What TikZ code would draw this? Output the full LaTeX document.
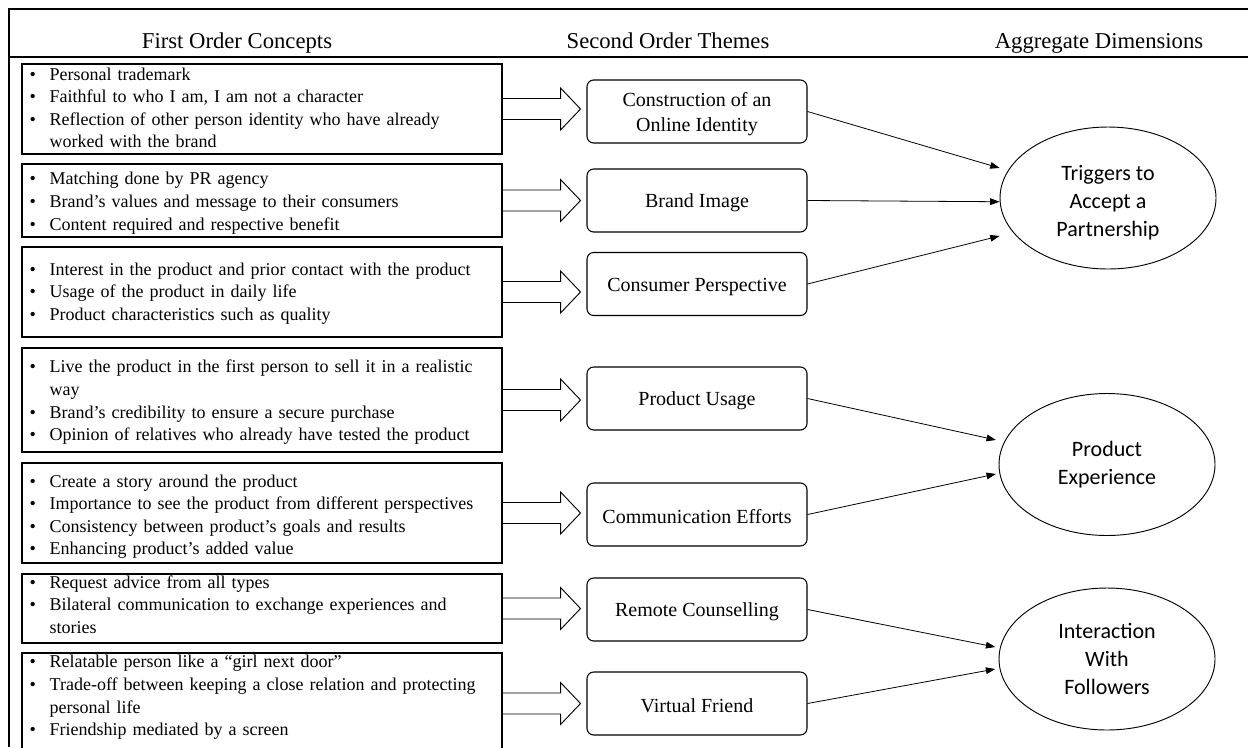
\documentclass[tikz,border=0pt]{standalone}
\usepackage{fontspec}
\setmainfont{Liberation Serif}
\newfontfamily\ellfont{Carlito}
\usetikzlibrary{arrows.meta,shapes.geometric}
\newcommand{\bl}[1]{\noindent\hangindent=21pt\hangafter=1\hspace*{6pt}\makebox[15pt][l]{\textbullet}#1\par}
\newcommand{\brk}{\hfil\break}
\newcommand{\hollowarrow}[1]{%
  \draw[harrow] ([yshift=7.875pt]#1.east) -- ++(58,0) -- ++(0,-10.5) -- ++(20,21) -- ++(-20,21) -- ++(0,-10.5) -- ++(-58,0);}
\tikzset{
  frame/.style={line width=0.9pt},
  lbox/.style={draw, line width=0.8pt, inner sep=0pt, minimum width=360pt},
  ltext/.style={anchor=base west, inner sep=0pt, text width=352pt,
    font=\fontsize{13.5}{16.9}\selectfont},
  tbox/.style={draw, line width=0.8pt, rounded corners=5pt, minimum width=165pt, minimum height=47.25pt,
    inner sep=0pt, align=center, font=\fontsize{15}{18.75}\selectfont},
  ell/.style={draw, ellipse, line width=0.7pt, minimum width=162pt, minimum height=106.5pt, inner sep=0pt,
    align=center, font=\ellfont\fontsize{16.5}{21}\selectfont},
  head/.style={anchor=base, font=\fontsize{17}{20}\selectfont},
  harrow/.style={line width=0.7pt, line join=miter},
  conn/.style={line width=0.6pt, -{Triangle[length=7pt,width=5pt]}}
}
\begin{document}
\begin{tikzpicture}[x=0.75pt,y=-0.75pt]
\useasboundingbox (0,0) rectangle (1248,747);
\clip (0,0) rectangle (1248,747);
% frame
\draw[frame] (9,747) -- (9,9) -- (1248,9);
\draw[frame] (9,57) -- (1248,57);
% headers
\node[head] (H1) at (237,48) {First Order Concepts};
\node[head] (H2) at (668,48) {Second Order Themes};
\node[head] (H3) at (1099,48) {Aggregate Dimensions};
% first order boxes
\node[lbox, minimum height=67.5pt] (L1) at (262,109) {};
\node[lbox, minimum height=54.75pt] (L2) at (262,200.5) {};
\node[lbox, minimum height=67.5pt] (L3) at (262,292) {};
\node[lbox, minimum height=78pt] (L4) at (262,400) {};
\node[lbox, minimum height=75pt] (L5) at (262,513) {};
\node[lbox, minimum height=51.75pt] (L6) at (262,608.5) {};
\node[lbox, minimum height=75.75pt] (L7) at (262,703.5) {};
\node[ltext] (L1t) at ([yshift=-12.4pt]L1.north west) {\raggedright%
\bl{Personal trademark}%
\bl{Faithful to who I am, I am not a character}%
\bl{Reflection of other person identity who have already\brk worked with the brand}};
\node[ltext] (L2t) at ([yshift=-16.1pt]L2.north west) {\raggedright%
\bl{Matching done by PR agency}%
\bl{Brand’s values and message to their consumers}%
\bl{Content required and respective benefit}};
\node[ltext] (L3t) at ([yshift=-21.4pt]L3.north west) {\raggedright%
\bl{Interest in the product and prior contact with the product}%
\bl{Usage of the product in daily life}%
\bl{Product characteristics such as quality}};
\node[ltext] (L4t) at ([yshift=-19.1pt]L4.north west) {\raggedright%
\bl{Live the product in the first person to sell it in a realistic\brk way}%
\bl{Brand’s credibility to ensure a secure purchase}%
\bl{Opinion of relatives who already have tested the product}};
\node[ltext] (L5t) at ([yshift=-18.4pt]L5.north west) {\raggedright%
\bl{Create a story around the product}%
\bl{Importance to see the product from different perspectives}%
\bl{Consistency between product’s goals and results}%
\bl{Enhancing product’s added value}};
\node[ltext] (L6t) at ([yshift=-10.9pt]L6.north west) {\raggedright%
\bl{Request advice from all types}%
\bl{Bilateral communication to exchange experiences and\brk stories}};
\node[ltext] (L7t) at ([yshift=-11.6pt]L7.north west) {\raggedright%
\bl{Relatable person like a “girl next door”}%
\bl{Trade-off between keeping a close relation and protecting\brk personal life}%
\bl{Friendship mediated by a screen}};
% second order themes
\node[tbox] (S1) at (697,111.5) {\rule{0pt}{14pt}Construction of an\\Online Identity};
\node[tbox] (S2) at (697,200.5) {\rule{0pt}{14pt}Brand Image};
\node[tbox] (S3) at (697,284) {\rule{0pt}{14pt}Consumer Perspective};
\node[tbox] (S4) at (697,398.5) {\rule{0pt}{14pt}Product Usage};
\node[tbox] (S5) at (697,514.5) {\rule{0pt}{14pt}Communication Efforts};
\node[tbox] (S6) at (697,609.5) {\rule{0pt}{14pt}Remote Counselling};
\node[tbox] (S7) at (697,703.5) {\rule{0pt}{14pt}Virtual Friend};
% aggregate dimensions
\node[ell] (T) at (1108,198) {\rule{0pt}{19pt}Triggers to\\Accept a\\Partnership};
\node[ell] (P) at (1107,464.5) {Product\\Experience};
\node[ell] (I) at (1107,659) {Interaction\\With\\Followers};
% hollow arrows
\hollowarrow{L1}
\hollowarrow{L2}
\hollowarrow{L3}
\hollowarrow{L4}
\hollowarrow{L5}
\hollowarrow{L6}
\hollowarrow{L7}
% connectors
\draw[conn] (S1.east) -- ([yshift=22.5pt]T.west);
\draw[conn] (S2.east) -- ([yshift=-2.8pt]T.west);
\draw[conn] (S3.east) -- ([yshift=-28.5pt]T.west);
\draw[conn] (S4.east) -- ([xshift=-2pt,yshift=18.4pt]P.west);
\draw[conn] (S5.east) -- ([xshift=-2pt,yshift=-7.1pt]P.west);
\draw[conn] (S6.east) -- ([xshift=-2.5pt,yshift=9pt]I.west);
\draw[conn] (S7.east) -- ([xshift=-2.5pt,yshift=-7.5pt]I.west);
\end{tikzpicture}
\end{document}
